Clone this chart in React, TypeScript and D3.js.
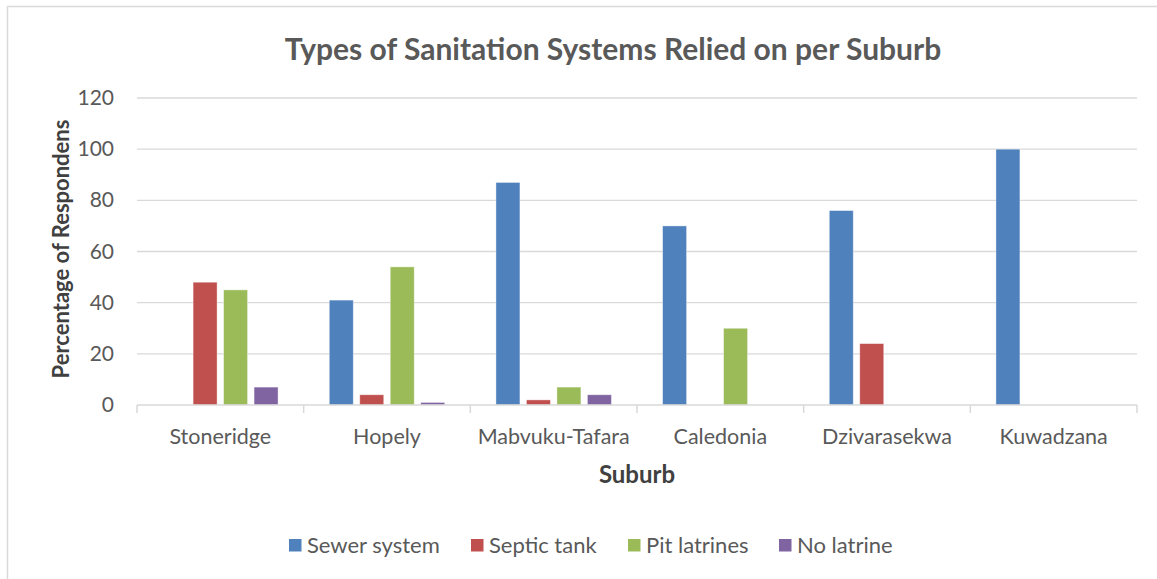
import React from "react";
import * as d3 from "d3";

const suburbs = ["Stoneridge", "Hopely", "Mabvuku-Tafara", "Caledonia", "Dzivarasekwa", "Kuwadzana"];
const seriesNames = ["Sewer system", "Septic tank", "Pit latrines", "No latrine"];
const seriesColors = ["#4F81BD", "#C0504D", "#9BBB59", "#8064A2"];
const sewer = [0, 41, 87, 70, 76, 100];
const septic = [48, 4, 2, 0, 24, 0];
const pit = [45, 54, 7, 30, 0, 0];
const noLatrine = [7, 1, 4, 0, 0, 0];
const yTicks = [0, 20, 40, 60, 80, 100, 120];

const W = 1157, H = 579;
const left = 137, right = 1137, top = 98, bottom = 405;
const FONT = "Lato, 'Open Sans', sans-serif";
const TXT = "#595959";

export default function App() {
  const series = [sewer, septic, pit, noLatrine];
  const x0 = d3.scaleBand().domain(suburbs).range([left, right]).paddingInner(0).paddingOuter(0);
  const x1 = d3.scaleBand().domain(seriesNames).range([0, x0.bandwidth()]).paddingInner(0.213).paddingOuter(0.84);
  const y = d3.scaleLinear().domain([0, 120]).range([bottom, top]);

  const legendX = [289, 471, 628, 779];

  return (
    <svg width={W} height={H} style={{ position: "absolute", left: 0, top: 0, background: "#fff" }}>
      <rect x={7.5} y={6.5} width={1160} height={600} fill="#fff" stroke="#d9d9d9" strokeWidth={1.5} />
      <text x={613} y={60} textAnchor="middle" fontFamily={FONT} fontWeight={700} fontSize={30} fill={TXT}>
        Types of Sanitation Systems Relied on per Suburb
      </text>
      {yTicks.map((t) => (
        <g key={t}>
          {t > 0 && <line x1={left} x2={right} y1={y(t)} y2={y(t)} stroke="#d9d9d9" strokeWidth={1.3} />}
          <text x={114} y={y(t) + 7} textAnchor="end" fontFamily={FONT} fontSize={21} fill={TXT}>{t}</text>
        </g>
      ))}
      {series.map((vals, si) =>
        suburbs.map((s, ci) => {
          const v = vals[ci];
          if (v <= 0) return null;
          const bx = (x0(s) as number) + (x1(seriesNames[si]) as number);
          return (
            <rect key={si + "-" + ci} x={bx} y={y(v)} width={x1.bandwidth()} height={bottom - y(v)}
              fill={seriesColors[si]} stroke="#ffffff" strokeOpacity={0.5} strokeWidth={0.8} />
          );
        })
      )}
      <line x1={left} x2={right} y1={bottom} y2={bottom} stroke="#d9d9d9" strokeWidth={1.5} />
      {d3.range(suburbs.length + 1).map((i) => {
        const tx = left + i * x0.bandwidth();
        return <line key={i} x1={tx} x2={tx} y1={bottom} y2={bottom + 8} stroke="#d9d9d9" strokeWidth={1.5} />;
      })}
      {suburbs.map((s) => (
        <text key={s} x={(x0(s) as number) + x0.bandwidth() / 2} y={444} textAnchor="middle" fontFamily={FONT} fontSize={21.5} fill={TXT}>{s}</text>
      ))}
      <text x={637} y={483} textAnchor="middle" fontFamily={FONT} fontWeight={700} fontSize={24} fill="#404040">Suburb</text>
      <text transform="translate(69,249) rotate(-90)" textAnchor="middle" fontFamily={FONT} fontWeight={700} fontSize={22} fill="#404040">Percentage of Respondens</text>
      {seriesNames.map((n, i) => (
        <g key={n}>
          <rect x={legendX[i]} y={539} width={12.5} height={12.5} fill={seriesColors[i]} />
          <text x={legendX[i] + 18} y={553} fontFamily={FONT} fontSize={22} fill={TXT}>{n}</text>
        </g>
      ))}
    </svg>
  );
}
